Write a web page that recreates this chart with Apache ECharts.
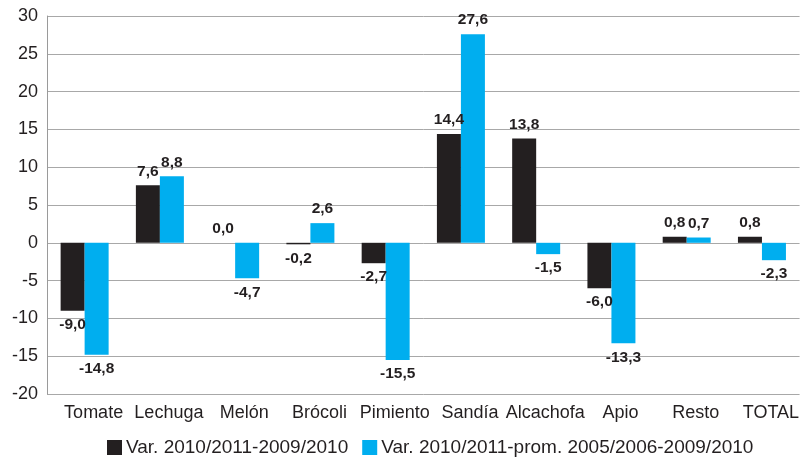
<!DOCTYPE html>
<html>
<head>
<meta charset="utf-8">
<script src="https://cdn.jsdelivr.net/npm/echarts@6/dist/echarts.min.js"></script>
<style>
  html, body { margin: 0; padding: 0; background: #fff; }
  #chart { width: 802px; height: 457px; }
</style>
</head>
<body>
<div id="chart"></div>
<script>
// Categorías de producto
const categories = ['Tomate', 'Lechuga', 'Melón', 'Brócoli', 'Pimiento', 'Sandía', 'Alcachofa', 'Apio', 'Resto', 'TOTAL'];
// Variación respecto a la campaña anterior (%)
const varAnual = [-9.0, 7.6, 0.0, -0.2, -2.7, 14.4, 13.8, -6.0, 0.8, 0.8];
// Variación respecto a la media de las cinco campañas anteriores (%)
const varMedia = [-14.8, 8.8, -4.7, 2.6, -15.5, 27.6, -1.5, -13.3, 0.7, -2.3];
const seriesNames = ['Var. 2010/2011-2009/2010', 'Var. 2010/2011-prom. 2005/2006-2009/2010'];
const colors = ['#231f20', '#00aeef'];

const fontFamily = '"Liberation Sans", Arial, Helvetica, sans-serif';

function fmt(v) {
  return v.toFixed(1).replace('.', ',');
}

function toData(arr) {
  return arr.map(v => ({
    value: v,
    label: { position: v < 0 ? 'bottom' : 'top' }
  }));
}

const labelStyle = {
  show: true,
  fontFamily: fontFamily,
  fontWeight: 'bold',
  fontSize: 15.5,
  color: '#231f20',
  distance: 6,
  formatter: p => fmt(p.value)
};

const chart = echarts.init(document.getElementById('chart'), null, { renderer: 'canvas' });
chart.setOption({
  animation: false,
  color: colors,
  grid: { left: 47, right: 0, top: 16, bottom: 63, containLabel: false },
  legend: {
    top: 438,
    left: 107,
    padding: 0,
    icon: 'rect',
    itemWidth: 15,
    itemHeight: 15,
    itemGap: 14,
    textStyle: { fontFamily: fontFamily, fontSize: 19, color: '#231f20', padding: [0, 0, 0, -1] },
    data: seriesNames
  },
  xAxis: {
    type: 'category',
    data: categories,
    axisLine: { show: false },
    axisTick: { show: false },
    axisLabel: {
      fontFamily: fontFamily, fontSize: 18, color: '#231f20',
      margin: 10, interval: 0, padding: [0, 0, 0, 18]
    }
  },
  yAxis: {
    type: 'value',
    min: -20,
    max: 30,
    interval: 5,
    axisLine: { show: true, lineStyle: { color: '#9a9a9a', width: 1 } },
    axisTick: { show: false },
    splitLine: { show: true, lineStyle: { color: '#a8a8a8', width: 1 } },
    axisLabel: {
      fontFamily: fontFamily, fontSize: 18, color: '#231f20',
      margin: 9, padding: [6, 0, 0, 0]
    }
  },
  series: [
    {
      name: seriesNames[0],
      type: 'bar',
      barWidth: 24,
      barGap: '0%',
      data: toData(varAnual),
      label: labelStyle
    },
    {
      name: seriesNames[1],
      type: 'bar',
      barWidth: 24,
      barGap: '0%',
      data: toData(varMedia),
      label: labelStyle
    }
  ]
});
</script>
</body>
</html>
